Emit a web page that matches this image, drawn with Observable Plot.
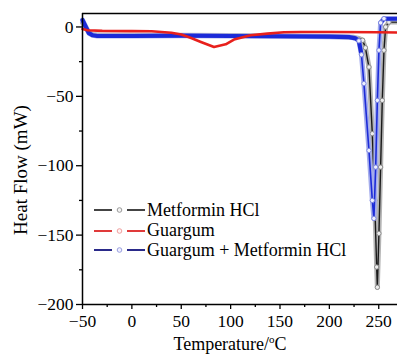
<!DOCTYPE html>
<html><head><meta charset="utf-8">
<script src="https://cdn.jsdelivr.net/npm/d3@7"></script>
<script src="https://cdn.jsdelivr.net/npm/@observablehq/plot@0.6"></script>
<style>
body{margin:0;background:#fff;}
#wrap{position:relative;width:397px;height:356px;overflow:hidden;font-family:"Liberation Serif",serif;color:#000;}
#wrap > svg{position:absolute;left:0;top:0;}
.lab{position:absolute;white-space:nowrap;line-height:1;}
.leg{position:absolute;left:94px;display:flex;align-items:center;height:20px;font-size:18px;white-space:nowrap;}
.leg svg{margin-right:1px;}
</style></head><body><div id="wrap"></div>
<script>
// Metformin HCl (black line, grey open circles)
const metT = [-50, -47, -44, -40, -30, 0, 50, 100, 150, 200, 225, 230, 233.7, 236.5, 240.1, 243.5, 245.9, 247.9, 248.6, 250.2, 251.9, 253.6, 255.3, 257, 260.3, 269];
const metV = [3, 0, -3.5, -5.5, -6, -6, -6, -6.2, -6.5, -6.8, -7.5, -8.2, -9.6, -15, -28.9, -76.9, -125, -173, -187.6, -148.8, -101, -52.9, -16.8, 0, 3.5, 3.5];
// Guargum (red)
const guarT = [-50, -45, -30, 0, 20, 40, 50, 60, 69.9, 83.2, 95, 103.4, 120.3, 137.2, 154, 171, 200, 250, 269];
const guarV = [-1.5, -2.4, -2.8, -3, -3.1, -4.2, -5.5, -8, -10.8, -14.4, -12.5, -9.1, -6, -4.8, -3.8, -3.6, -3.6, -3.8, -4];
// Guargum + Metformin HCl (blue)
const mixT = [-50, -46.6, -43.5, -39.6, -35, 0, 50, 100, 150, 200, 220, 226.6, 229.9, 232.5, 235, 240.1, 243.5, 245.1, 246.9, 248.6, 250.2, 251.9, 255.3, 269];
const mixV = [5, 0, -4.5, -6, -6.5, -6.5, -6.3, -6.5, -6.7, -7, -7.3, -8.2, -10, -20, -40.8, -89, -125, -138, -101, -52.9, -16.8, 3, 6, 6];

const seriesNames = ["Metformin HCl", "Guargum", "Guargum + Metformin HCl"];
const xDomain = [-50, 269];
const yDomain = [-200, 9.7];
const majorX = [-50, 0, 50, 100, 150, 200, 250];
const minorX = [-25, 25, 75, 125, 175, 225];
const majorY = [-200, -150, -100, -50, 0];
const minorY = [-175, -125, -75, -25];
const xTitle = "Temperature/";
const yTitle = "Heat Flow (mW)";

const rows = (T, V) => T.map((t, i) => ({t, v: V[i]}));
const met = rows(metT, metV), guar = rows(guarT, guarV), mix = rows(mixT, mixV);
const inDip = d => d.t >= 229 && d.t <= 258;
const inDipM = d => d.t >= 232 && d.t <= 262;

const chart = Plot.plot({
  width: 397, height: 356,
  marginLeft: 82, marginRight: 0, marginTop: 13, marginBottom: 52,
  x: {domain: xDomain},
  y: {domain: yDomain},
  style: {fontFamily: "Liberation Serif", fontSize: "17.5px", color: "#000", background: "transparent"},
  marks: [
    Plot.line(met, {x: "t", y: "v", stroke: "#b4b4b4", strokeWidth: 5}),
    Plot.line(met, {x: "t", y: "v", stroke: "#1a1a1a", strokeWidth: 1.4}),
    Plot.dot(met, {filter: inDipM, x: "t", y: "v", r: 2.2, stroke: "#8a8a8a", fill: "#eee", strokeWidth: 1}),
    Plot.line(mix, {x: "t", y: "v", stroke: "#a4acec", strokeWidth: 5}),
    Plot.line(mix, {filter: d => d.t <= 232.5, x: "t", y: "v", stroke: "#1c2bd8", strokeWidth: 4.2}),
    Plot.line(mix, {x: "t", y: "v", stroke: "#1c2bd8", strokeWidth: 1.6}),
    Plot.line(mix, {filter: d => d.t >= 251.9, x: "t", y: "v", stroke: "#1c2bd8", strokeWidth: 4}),
    Plot.dot(mix, {filter: inDip, x: "t", y: "v", r: 2.2, stroke: "#7c86e0", fill: "#eef0ff", strokeWidth: 1}),
    Plot.line(guar, {x: "t", y: "v", stroke: "#e8201c", strokeWidth: 2.6}),
    Plot.ruleY([yDomain[1]], {stroke: "#000", strokeWidth: 1.5}),
    Plot.ruleY([yDomain[0]], {stroke: "#000", strokeWidth: 1.5}),
    Plot.ruleX([xDomain[0]], {stroke: "#000", strokeWidth: 1.5}),
    Plot.axisX(majorX, {tickSize: 5, tickPadding: 5, label: null, strokeWidth: 1.3}),
    Plot.axisX(minorX, {tickSize: 3, tickFormat: () => "", label: null, strokeWidth: 1.3}),
    Plot.axisY(majorY, {tickSize: 6, tickPadding: 3, label: null, strokeWidth: 1.3}),
    Plot.axisY(minorY, {tickSize: 3, tickFormat: () => "", label: null, strokeWidth: 1.3})
  ]
});

const wrap = document.getElementById("wrap");
wrap.appendChild(chart);

// axis titles
const xl = document.createElement("div");
xl.className = "lab";
xl.style.cssText = "left:230px;top:343px;font-size:18px;transform:translate(-50%,-50%);";
xl.innerHTML = xTitle + "<sup style='font-size:11px;vertical-align:7px'>o</sup>C";
wrap.appendChild(xl);
const yl = document.createElement("div");
yl.className = "lab";
yl.style.cssText = "left:20px;top:170px;font-size:19px;transform:translate(-50%,-50%) rotate(-90deg);";
yl.textContent = yTitle;
wrap.appendChild(yl);

// legend
const legStyle = [
  {line: "#444", mk: "#9a9a9a", fill: "#f4f4f4"},
  {line: "#e03a3a", mk: "#f0a0a0", fill: "#fff4f4"},
  {line: "#2a2a8a", mk: "#9aa0e0", fill: "#f0f0ff"}
];
const legY = [210, 230.5, 250];
seriesNames.forEach((name, i) => {
  const d = document.createElement("div");
  d.className = "leg";
  d.style.top = (legY[i] - 10) + "px";
  const s = legStyle[i];
  d.innerHTML = `<svg width="52" height="20"><line x1="0" x2="18" y1="10" y2="10" stroke="${s.line}" stroke-width="2"/><line x1="33" x2="51" y1="10" y2="10" stroke="${s.line}" stroke-width="2"/><circle cx="25.5" cy="10" r="2.3" fill="${s.fill}" stroke="${s.mk}" stroke-width="1"/></svg><span>${name}</span>`;
  wrap.appendChild(d);
});
</script>
</body></html>
